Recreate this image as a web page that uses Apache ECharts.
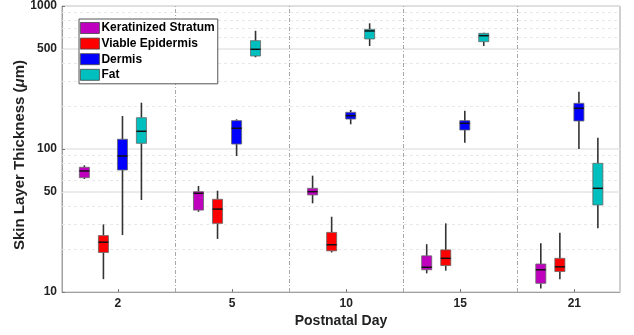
<!DOCTYPE html>
<html>
<head>
<meta charset="utf-8">
<script src="https://cdn.jsdelivr.net/npm/echarts@6/dist/echarts.min.js"></script>
<style>html,body{margin:0;padding:0;background:#fff}#c{width:634px;height:335px}</style>
</head>
<body>
<div id="c"></div>
<script>
// Categories (postnatal day)
const days = ['2', '5', '10', '15', '21'];
// Box stats per day: [min, Q1, median, Q3, max] (µm)
const keratinized = [[61.7, 63.0, 70.2, 74.5, 76.9], [36.4, 37.4, 49.0, 50.3, 55.1], [41.7, 47.7, 50.3, 53.1, 65.1], [13.5, 14.3, 14.9, 17.9, 21.6], [10.6, 11.5, 14.3, 15.7, 21.9]];
const viable = [[12.3, 18.9, 22.3, 24.8, 29.7], [23.5, 30.2, 38.0, 44.5, 51.1], [18.9, 19.4, 21.4, 26.1, 33.6], [14.1, 15.3, 17.2, 19.7, 30.2], [12.3, 13.9, 15.0, 17.2, 26.0]];
const dermis = [[25.0, 71.3, 89.3, 117, 170], [89.3, 108.3, 139.6, 157.8, 161.3], [148.8, 162, 171, 180.5, 187.5], [110.7, 135.8, 151.2, 157.8, 185.3], [100, 157, 192.6, 208.7, 251.6]];
const fat = [[44.0, 109.6, 133, 165.5, 210.8], [438, 447, 498, 572, 671], [525, 588, 669, 687, 757], [525, 563, 620, 644, 650], [27.9, 40.6, 53.1, 79.4, 120]];
// Axis ticks
const yTicks = [10, 50, 100, 500, 1000];
const yMinorGrid = [20, 30, 40, 50, 60, 70, 80, 90, 200, 300, 400, 500, 600, 700, 800, 900];
const dividers = [0.5, 1.5, 2.5, 3.5];

const seriesNames = ['Keratinized Stratum', 'Viable Epidermis', 'Dermis', 'Fat'];
const seriesData = [keratinized, viable, dermis, fat];
const colors = ['#bf00bf', '#ff0000', '#0000ff', '#00bfbf'];
const offsets = [-0.294, -0.127, 0.040, 0.206];
const FONT = '"Liberation Sans", Arial, Helvetica, sans-serif';

function makeRender(off) {
  return function (params, api) {
    const i = api.value(0);
    const x0 = api.coord([i, 100])[0];
    const unit = api.coord([i + 1, 100])[0] - x0;
    const cx = x0 + off * unit;
    const w = 0.088 * unit;
    const y = k => api.coord([i, api.value(k)])[1];
    const yMin = y(1), yQ1 = y(2), yMed = y(3), yQ3 = y(4), yMax = y(5);
    const ws = { stroke: '#333', lineWidth: 1.6 };
    return {
      type: 'group',
      children: [
        { type: 'line', shape: { x1: cx, y1: yMax, x2: cx, y2: yQ3 }, style: ws },
        { type: 'line', shape: { x1: cx, y1: yQ1, x2: cx, y2: yMin }, style: ws },
        { type: 'rect', shape: { x: cx - w / 2, y: yQ3, width: w, height: yQ1 - yQ3 },
          style: { fill: api.visual('color'), stroke: '#666', lineWidth: 0.8 } },
        { type: 'line', shape: { x1: cx - w / 2, y1: yMed, x2: cx + w / 2, y2: yMed },
          style: { stroke: '#111', lineWidth: 1.5 } }
      ]
    };
  };
}

const series = seriesNames.map((name, s) => ({
  name: name,
  type: 'custom',
  renderItem: makeRender(offsets[s]),
  itemStyle: { color: colors[s] },
  encode: { x: 0, y: [1, 2, 3, 4, 5] },
  data: seriesData[s].map((d, i) => [i].concat(d)),
  z: 5
}));

// grid helper lines
series.push({
  type: 'line',
  data: [],
  silent: true,
  z: 1,
  markLine: {
    silent: true,
    symbol: 'none',
    label: { show: false },
    data: yMinorGrid.map(v => ({ yAxis: v, lineStyle: { color: '#e8e8e8', type: [3, 3], width: 1 } }))
      .concat(dividers.map(v => ({ xAxis: v, lineStyle: { color: '#a8a8a8', type: [4, 2, 1, 2], width: 1 } })))
  }
});

const chart = echarts.init(document.getElementById('c'), null, { renderer: 'canvas' });
chart.setOption({
  animation: false,
  backgroundColor: '#fff',
  textStyle: { fontFamily: FONT },
  grid: { left: 62, right: 14, top: 6, bottom: 43, show: true, borderColor: '#a0a0a0', borderWidth: 1, backgroundColor: 'transparent', outerBoundsMode: 'none', containLabel: false },
  legend: {
    data: seriesNames,
    orient: 'vertical',
    left: 79, top: 19,
    icon: 'rect',
    itemWidth: 19, itemHeight: 11,
    itemGap: 3.6,
    padding: [3, 3, 3, 1],
    borderColor: '#555', borderWidth: 1,
    backgroundColor: '#fff',
    itemStyle: { borderColor: '#444', borderWidth: 0.8 },
    textStyle: { fontFamily: FONT, fontWeight: 'bold', fontSize: 12, color: '#000', padding: [0, 0, 0, -3] },
    selectedMode: false,
    z: 10
  },
  xAxis: {
    type: 'value',
    min: -0.49, max: 4.4,
    splitLine: { show: false },
    axisLine: { show: true, onZero: false, lineStyle: { color: '#a0a0a0' } },
    axisTick: { show: true, inside: true, length: 3, customValues: [0, 1, 2, 3, 4], lineStyle: { color: '#777' } },
    axisLabel: {
      customValues: [0, 1, 2, 3, 4],
      formatter: v => days[Math.round(v)],
      fontFamily: FONT, fontWeight: 'bold', fontSize: 12, color: '#222', margin: 6
    },
    name: 'Postnatal Day',
    nameLocation: 'middle',
    nameGap: 22,
    nameMoveOverlap: false,
    nameTextStyle: { fontFamily: FONT, fontWeight: 'bold', fontSize: 14, color: '#222' }
  },
  yAxis: {
    type: 'log',
    logBase: 10,
    min: 10, max: 1000,
    axisLine: { show: true, onZero: false, lineStyle: { color: '#a0a0a0' } },
    axisTick: { show: true, inside: true, length: 3, customValues: yTicks, lineStyle: { color: '#777' } },
    axisLabel: {
      customValues: yTicks,
      formatter: v => String(Math.round(v)),
      fontFamily: FONT, fontWeight: 'bold', fontSize: 12, color: '#222', margin: 5
    },
    splitLine: { show: true, lineStyle: { color: '#e6e6e6', width: 1.5 } },
    minorSplitLine: { show: false },
    name: 'Skin Layer Thickness ({i|μ}m)',
    nameLocation: 'middle',
    nameGap: 35,
    nameMoveOverlap: false,
    nameTextStyle: {
      fontFamily: FONT, fontWeight: 'bold', fontSize: 15, color: '#222', padding: [0, 12, 0, 0],
      rich: { i: { fontFamily: FONT, fontStyle: 'italic', fontWeight: 'bold', fontSize: 15, color: '#222' } }
    }
  },
  series: series
});
</script>
</body>
</html>
